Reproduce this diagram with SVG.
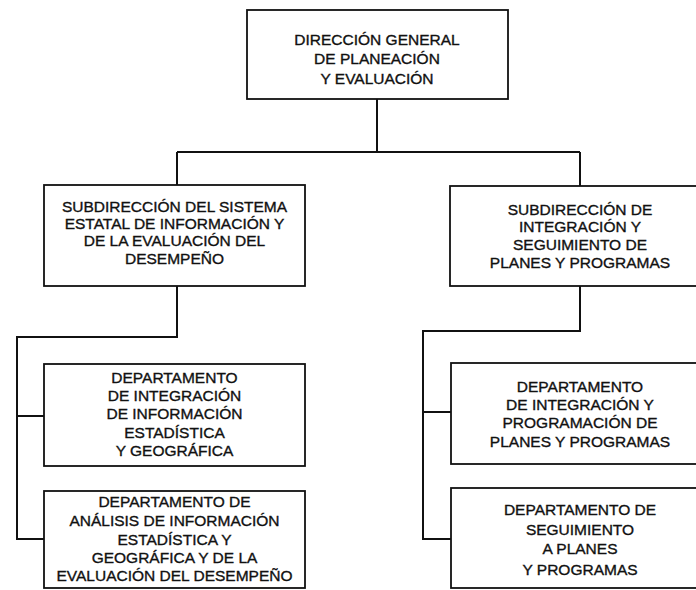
<svg xmlns="http://www.w3.org/2000/svg" width="696" height="590" viewBox="0 0 696 590">
<style>
.box{fill:#fff;stroke:#111;stroke-width:1.8}
.lbl{font-family:"Liberation Sans",Arial,sans-serif;font-size:15.5px;fill:#111;stroke:#111;stroke-width:0.35;text-anchor:middle}
.con{fill:none;stroke:#111;stroke-width:2}
</style>
<rect width="696" height="590" fill="#fff"/>
<g id="connectors">
<path class="con" d="M377,99 V152 M177,152 H580 M177,152 V185 M580,152 V186"/>
<path class="con" d="M177,286 V337 H17 V539 H44 M17,416 H44"/>
<path class="con" d="M580,286 V331 H423 V539 H451 M423,412 H451"/>
</g>
<g id="n-direccion">
<rect class="box" x="247" y="10" width="261" height="89"/>
<text class="lbl" x="377" y="45">DIRECCIÓN GENERAL</text>
<text class="lbl" x="377" y="64">DE PLANEACIÓN</text>
<text class="lbl" x="377" y="84">Y EVALUACIÓN</text>
</g>
<g id="n-sub-sistema">
<rect class="box" x="44" y="185" width="261" height="101"/>
<text class="lbl" x="174.5" y="212">SUBDIRECCIÓN DEL SISTEMA</text>
<text class="lbl" x="174.5" y="229">ESTATAL DE INFORMACIÓN Y</text>
<text class="lbl" x="174.5" y="246">DE LA EVALUACIÓN DEL</text>
<text class="lbl" x="174.5" y="264">DESEMPEÑO</text>
</g>
<g id="n-sub-integracion">
<rect class="box" x="450" y="186" width="260" height="100"/>
<text class="lbl" x="580" y="215">SUBDIRECCIÓN DE</text>
<text class="lbl" x="580" y="232">INTEGRACIÓN Y</text>
<text class="lbl" x="580" y="250">SEGUIMIENTO DE</text>
<text class="lbl" x="580" y="268">PLANES Y PROGRAMAS</text>
</g>
<g id="n-dep-integracion-info">
<rect class="box" x="44" y="364" width="261" height="102"/>
<text class="lbl" x="174.5" y="383">DEPARTAMENTO</text>
<text class="lbl" x="174.5" y="401">DE INTEGRACIÓN</text>
<text class="lbl" x="174.5" y="419">DE INFORMACIÓN</text>
<text class="lbl" x="174.5" y="438">ESTADÍSTICA</text>
<text class="lbl" x="174.5" y="456">Y GEOGRÁFICA</text>
</g>
<g id="n-dep-analisis">
<rect class="box" x="44" y="491" width="261" height="97"/>
<text class="lbl" x="174.5" y="507">DEPARTAMENTO DE</text>
<text class="lbl" x="174.5" y="526">ANÁLISIS DE INFORMACIÓN</text>
<text class="lbl" x="174.5" y="545">ESTADÍSTICA Y</text>
<text class="lbl" x="174.5" y="563">GEOGRÁFICA Y DE LA</text>
<text class="lbl" x="174.5" y="581">EVALUACIÓN DEL DESEMPEÑO</text>
</g>
<g id="n-dep-programacion">
<rect class="box" x="451" y="363" width="259" height="101"/>
<text class="lbl" x="580" y="392">DEPARTAMENTO</text>
<text class="lbl" x="580" y="410">DE INTEGRACIÓN Y</text>
<text class="lbl" x="580" y="428">PROGRAMACIÓN DE</text>
<text class="lbl" x="580" y="447">PLANES Y PROGRAMAS</text>
</g>
<g id="n-dep-seguimiento">
<rect class="box" x="451" y="488" width="259" height="100"/>
<text class="lbl" x="580" y="515">DEPARTAMENTO DE</text>
<text class="lbl" x="580" y="535">SEGUIMIENTO</text>
<text class="lbl" x="580" y="554">A PLANES</text>
<text class="lbl" x="580" y="575">Y PROGRAMAS</text>
</g>
</svg>
